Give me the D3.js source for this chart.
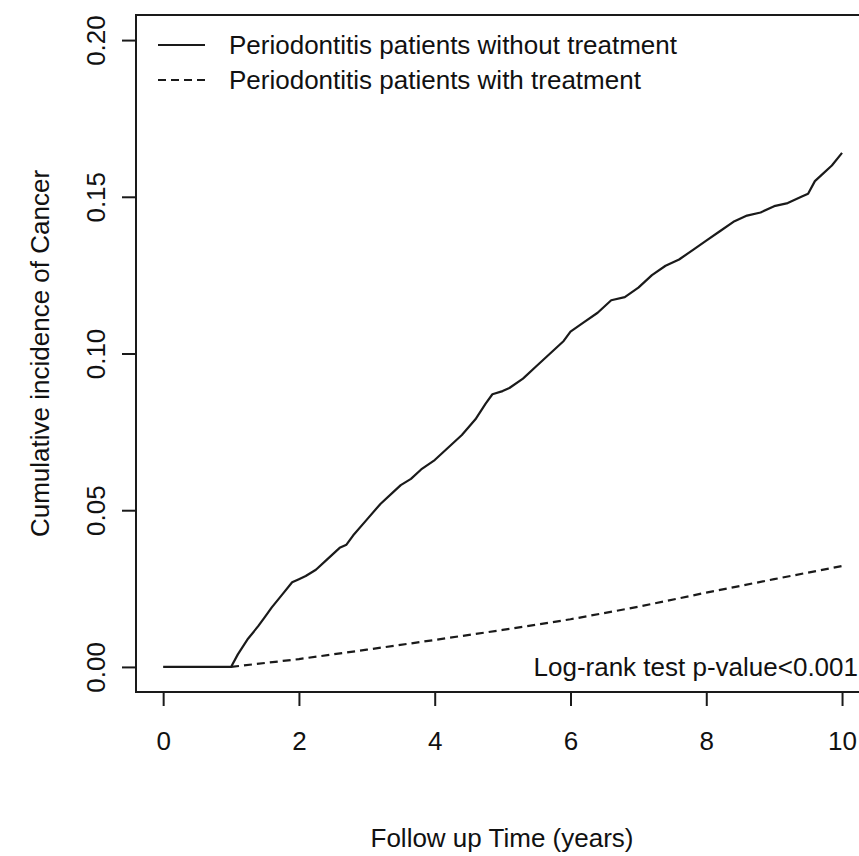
<!DOCTYPE html>
<html>
<head>
<meta charset="utf-8">
<script src="https://cdn.jsdelivr.net/npm/d3@7"></script>
<style>
  body { margin: 0; background: #fff; }
  svg text { font-family: "Liberation Sans", Arial, sans-serif; fill: #111; }
</style>
</head>
<body>
<svg id="chart" width="859" height="856"></svg>
<script>
// cumulative incidence
let timeNoTreat = [0, 1.0, 1.1, 1.25, 1.4, 1.5, 1.6, 1.75, 1.9, 2.0, 2.1, 2.25, 2.4, 2.5, 2.6, 2.7, 2.8, 3.0, 3.2, 3.4, 3.5, 3.65, 3.8, 4.0, 4.2, 4.4, 4.6, 4.75, 4.85, 5.0, 5.1, 5.3, 5.5, 5.7, 5.9, 6.0, 6.2, 6.4, 6.5, 6.6, 6.8, 7.0, 7.2, 7.4, 7.6, 7.8, 8.0, 8.2, 8.4, 8.6, 8.8, 9.0, 9.2, 9.4, 9.5, 9.6, 9.7, 9.85, 10.0];
let incNoTreat  = [0, 0, 0.004, 0.009, 0.013, 0.016, 0.019, 0.023, 0.027, 0.028, 0.029, 0.031, 0.034, 0.036, 0.038, 0.039, 0.042, 0.047, 0.052, 0.056, 0.058, 0.060, 0.063, 0.066, 0.070, 0.074, 0.079, 0.084, 0.087, 0.088, 0.089, 0.092, 0.096, 0.100, 0.104, 0.107, 0.110, 0.113, 0.115, 0.117, 0.118, 0.121, 0.125, 0.128, 0.130, 0.133, 0.136, 0.139, 0.142, 0.144, 0.145, 0.147, 0.148, 0.150, 0.151, 0.155, 0.157, 0.160, 0.164];

let timeTreat = [0, 1.0, 2.0, 3.0, 4.0, 5.0, 6.0, 7.0, 8.0, 9.0, 10.0];
let incTreat  = [0, 0, 0.0025, 0.0055, 0.0086, 0.0118, 0.0152, 0.0192, 0.0237, 0.0280, 0.0322];

let xTicks = [0, 2, 4, 6, 8, 10];
let yTicks = [0, 0.05, 0.10, 0.15, 0.20];
let legendLabels = ["Periodontitis patients without treatment", "Periodontitis patients with treatment"];

let chart = d3.select("#chart");
let fontSize = 26;
let ink = "#1a1a1a";

// R style: domain padded 4% on each side
let x = d3.scaleLinear()
    .domain([-0.4, 10.4])
    .range([136, 869.2]);
let y = d3.scaleLinear()
    .domain([-0.008, 0.208])
    .range([692, 15]);

// box
chart.append("rect")
    .attr("x", x(-0.4))
    .attr("y", y(0.208))
    .attr("width", x(10.4) - x(-0.4))
    .attr("height", y(-0.008) - y(0.208))
    .attr("fill", "none")
    .attr("stroke", ink)
    .attr("stroke-width", 2);

// x axis
let xAxis = d3.axisBottom(x)
    .tickValues(xTicks)
    .tickFormat(d3.format("d"))
    .tickSize(14)
    .tickPadding(26);
let xAxisGroup = chart.append("g")
    .attr("transform", "translate(0," + y(-0.008) + ")")
    .call(xAxis);
xAxisGroup.select(".domain").remove();
xAxisGroup.selectAll("line").attr("stroke", ink).attr("stroke-width", 2);
xAxisGroup.selectAll("text").style("font-size", fontSize + "px").attr("fill", "#111");

// y axis, labels rotated like base R
let yAxis = d3.axisLeft(y)
    .tickValues(yTicks)
    .tickFormat(d3.format(".2f"))
    .tickSize(14);
let yAxisGroup = chart.append("g")
    .attr("transform", "translate(" + x(-0.4) + ",0)")
    .call(yAxis);
yAxisGroup.select(".domain").remove();
yAxisGroup.selectAll("line").attr("stroke", ink).attr("stroke-width", 2);
yAxisGroup.selectAll("text")
    .attr("x", null)
    .attr("dy", null)
    .attr("text-anchor", "middle")
    .attr("dominant-baseline", "central")
    .attr("transform", "translate(-40,0) rotate(-90)")
    .style("font-size", fontSize + "px")
    .attr("fill", "#111");

// axis titles
chart.append("text")
    .text("Follow up Time (years)")
    .attr("x", 502)
    .attr("y", 838)
    .attr("text-anchor", "middle")
    .attr("dominant-baseline", "central")
    .style("font-size", fontSize + "px");

chart.append("text")
    .text("Cumulative incidence of Cancer")
    .attr("transform", "translate(40," + y(0.1) + ") rotate(-90)")
    .attr("text-anchor", "middle")
    .attr("dominant-baseline", "central")
    .style("font-size", fontSize + "px");

// curves
let noTreat = timeNoTreat.map(function(t, i) { return {t: t, v: incNoTreat[i]}; });
let treat = timeTreat.map(function(t, i) { return {t: t, v: incTreat[i]}; });

let line = d3.line()
    .x(function(d) { return x(d.t); })
    .y(function(d) { return y(d.v); });

chart.append("path")
    .datum(noTreat)
    .attr("fill", "none")
    .attr("stroke", ink)
    .attr("stroke-width", 2.2)
    .attr("stroke-linejoin", "round")
    .attr("d", line);

chart.append("path")
    .datum(treat.filter(function(d) { return d.t >= 1; }))
    .attr("fill", "none")
    .attr("stroke", ink)
    .attr("stroke-width", 2.2)
    .attr("stroke-dasharray", "8,5")
    .attr("d", line);

// legend
let legend = chart.append("g");
legendLabels.forEach(function(label, i) {
    let ly = 45 + i * 35;
    legend.append("line")
        .attr("x1", 158).attr("x2", 205)
        .attr("y1", ly).attr("y2", ly)
        .attr("stroke", ink)
        .attr("stroke-width", 2)
        .attr("stroke-dasharray", i == 0 ? null : "8,5");
    legend.append("text")
        .text(label)
        .attr("x", 229)
        .attr("y", ly)
        .attr("dominant-baseline", "central")
        .style("font-size", fontSize + "px");
});

// test annotation
chart.append("text")
    .text("Log-rank test p-value<0.001")
    .attr("x", 858)
    .attr("y", y(0))
    .attr("text-anchor", "end")
    .attr("dominant-baseline", "central")
    .style("font-size", fontSize + "px");
</script>
</body>
</html>
